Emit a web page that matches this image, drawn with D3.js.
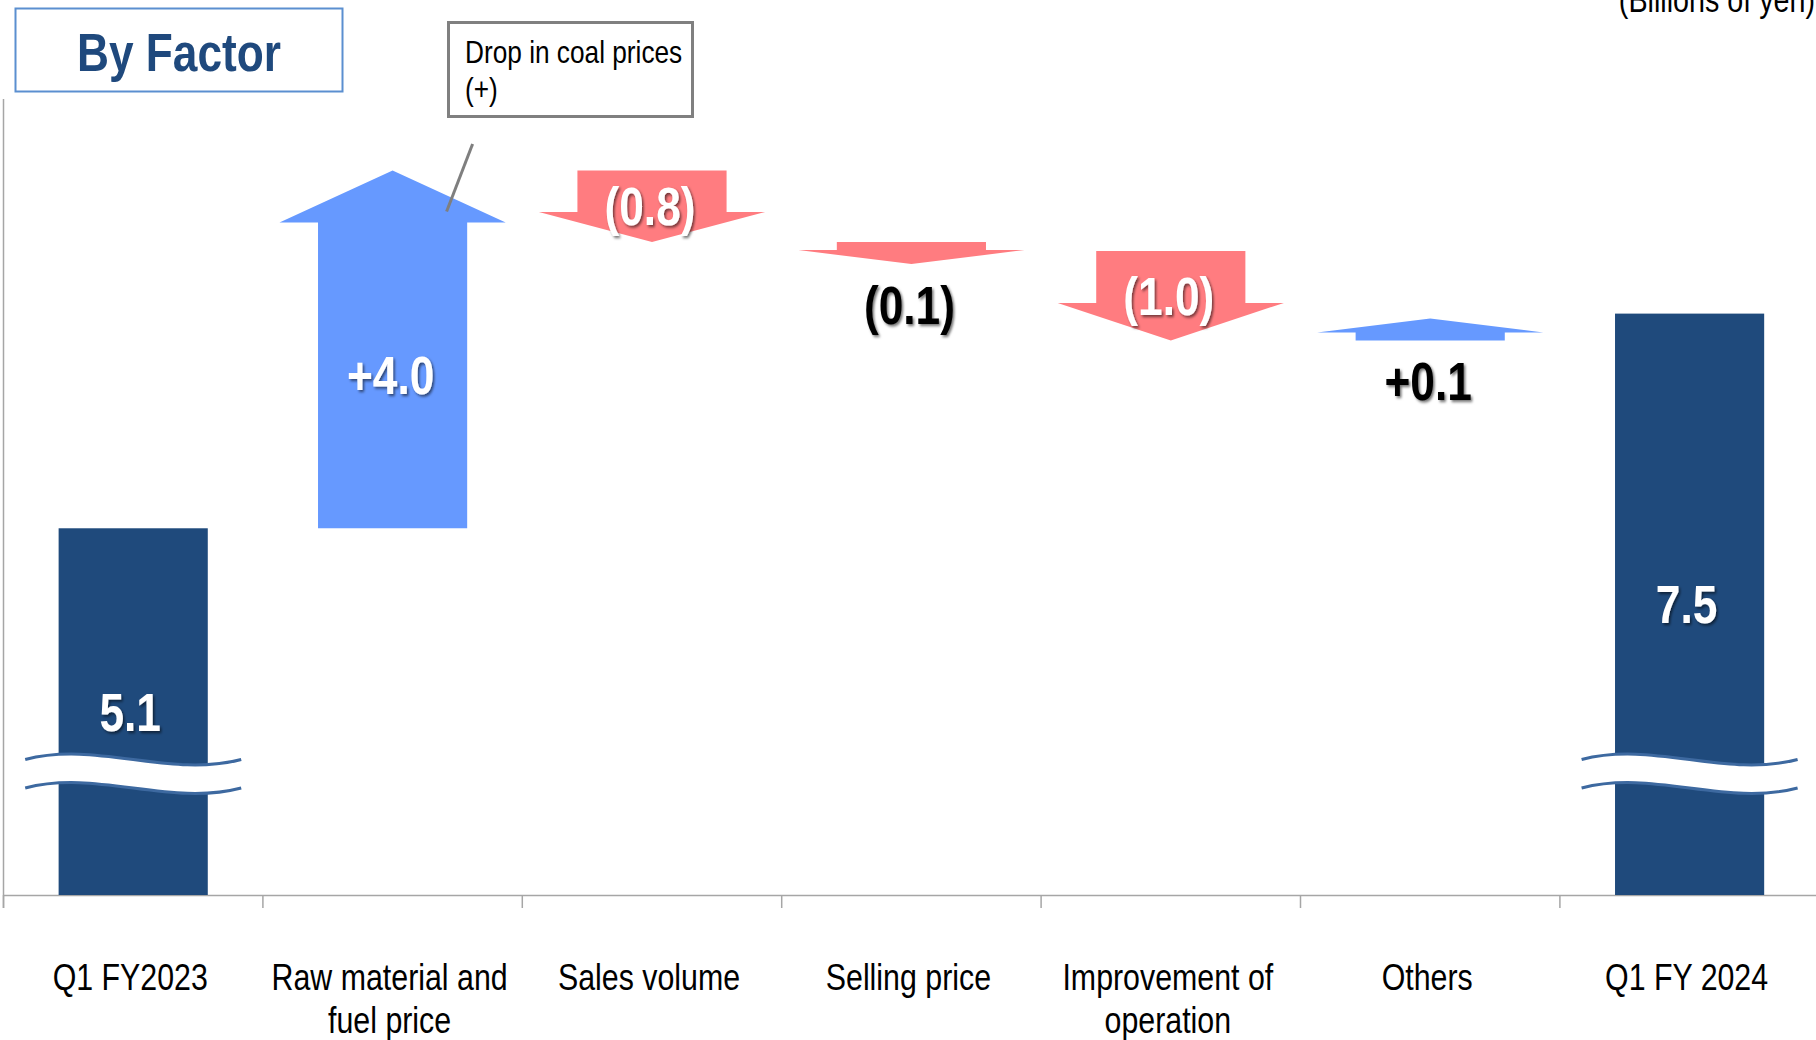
<!DOCTYPE html>
<html>
<head>
<meta charset="utf-8">
<script src="https://cdn.jsdelivr.net/npm/d3@7"></script>
<style>
  body { margin: 0; background: #fff; }
  svg { display: block; }
  text { font-family: 'Liberation Sans', Arial, sans-serif; }
</style>
</head>
<body>
<div id="chart"></div>
<script>
// chart data
const categories = ['Q1 FY2023', 'Raw material and fuel price', 'Sales volume', 'Selling price',
  'Improvement of operation', 'Others', 'Q1 FY 2024'];
const categoryLines = [['Q1 FY2023'], ['Raw material and', 'fuel price'], ['Sales volume'],
  ['Selling price'], ['Improvement of', 'operation'], ['Others'], ['Q1 FY 2024']];
const values = [5.1, 4.0, -0.8, -0.1, -1.0, 0.1, 7.5];
const kinds = ['total', 'delta', 'delta', 'delta', 'delta', 'delta', 'total'];
const valueLabels = ['5.1', '+4.0', '(0.8)', '(0.1)', '(1.0)', '+0.1', '7.5'];
const yDomain = [1.0, 9.1]; // axis is broken, bars start at 1.0

const width = 1816;
const height = 1040;
const baseY = 895;
const narrow = 0.82; // no Arial Narrow here, squeeze Liberation Sans instead

const svg = d3.select('#chart').append('svg')
  .attr('width', width)
  .attr('height', height);

const defs = svg.append('defs');
defs.append('filter').attr('id', 'shadow')
  .attr('x', '-20%').attr('y', '-20%').attr('width', '140%').attr('height', '140%')
  .append('feDropShadow')
  .attr('dx', 2).attr('dy', 2).attr('stdDeviation', 1.5)
  .attr('flood-color', '#000').attr('flood-opacity', 0.55);

// text drawn at (tx, ty) and squeezed horizontally
function narrowText(parent, tx, ty, lines, o) {
  const g = parent.append('g')
    .attr('transform', `translate(${tx},${ty}) scale(${narrow},1)`);
  const t = g.append('text')
    .attr('text-anchor', o.anchor || 'middle')
    .attr('font-size', o.size)
    .attr('font-weight', o.weight || 'normal')
    .attr('fill', o.fill || '#000');
  if (o.filter) t.attr('filter', o.filter);
  lines.forEach((line, k) => {
    t.append('tspan').attr('x', 0).attr('y', k * (o.lh || 0)).text(line);
  });
  return t;
}

const x = d3.scaleBand()
  .domain(categories)
  .range([3.5, 3.5 + 7 * 259.4]);

const y = d3.scaleLinear()
  .domain(yDomain)
  .range([baseY, 170.5]);

const bw = x.bandwidth();
const barW = bw * 0.575;
const headW = bw * 0.872;

// waterfall steps
let running = 0;
const steps = categories.map((c, i) => {
  if (kinds[i] === 'total') {
    running = values[i];
    return { c, i, kind: 'total', start: yDomain[0], end: values[i] };
  }
  const start = running;
  running += values[i];
  return { c, i, kind: 'delta', start, end: running };
});

// axes
svg.append('line')
  .attr('x1', 3.5).attr('x2', 3.5)
  .attr('y1', 99).attr('y2', baseY + 13)
  .attr('stroke', '#a6a6a6').attr('stroke-width', 1.5);

const xAxis = svg.append('g')
  .attr('transform', `translate(0,${baseY})`)
  .call(d3.axisBottom(x).tickSize(0).tickFormat(''));
xAxis.select('.domain').attr('stroke', '#a6a6a6').attr('stroke-width', 1.5)
  .attr('d', `M3.5,0.5H${width}`);

svg.append('g').selectAll('line')
  .data(categories)
  .join('line')
  .attr('x1', d => x(d)).attr('x2', d => x(d))
  .attr('y1', baseY).attr('y2', baseY + 13)
  .attr('stroke', '#a6a6a6').attr('stroke-width', 1.5);

// category labels
const catG = svg.append('g');
steps.forEach(d => {
  narrowText(catG, x(d.c) + bw / 2 - 3, 990, categoryLines[d.i], { size: 37, lh: 43 });
});

// total bars
const totals = steps.filter(d => d.kind === 'total');
svg.append('g').selectAll('rect')
  .data(totals)
  .join('rect')
  .attr('x', d => x(d.c) + (bw - barW) / 2)
  .attr('y', d => y(d.end))
  .attr('width', barW)
  .attr('height', d => baseY - y(d.end))
  .attr('fill', '#1f4a7c');

// axis break marks
const wave = (x0, x1, yy, k) => {
  const w = x1 - x0;
  return `C${x0 + w / 3},${yy - k} ${x0 + 2 * w / 3},${yy + k} ${x1},${yy}`;
};
const waveBack = (x0, x1, yy, k) => {
  const w = x1 - x0;
  return `C${x0 + 2 * w / 3},${yy + k} ${x0 + w / 3},${yy - k} ${x0},${yy}`;
};
const breakG = svg.append('g');
totals.forEach(d => {
  const cx = x(d.c) + bw / 2;
  const x0 = cx - 108, x1 = cx + 108;
  const yA = baseY - 135.5, yB = baseY - 107;
  breakG.append('path')
    .attr('d', `M${x0},${yA}${wave(x0, x1, yA, 19)}L${x1},${yB}${waveBack(x0, x1, yB, 19)}Z`)
    .attr('fill', '#fff');
  [yA, yB].forEach(yy => {
    breakG.append('path')
      .attr('d', `M${x0},${yy}${wave(x0, x1, yy, 19)}`)
      .attr('fill', 'none')
      .attr('stroke', '#3d69a0')
      .attr('stroke-width', 3);
  });
});

// delta arrows
const deltas = steps.filter(d => d.kind === 'delta').map(d => {
  const y0 = y(d.start);
  const dir = values[d.i] > 0 ? 1 : -1;
  const len = Math.max(Math.abs(y(d.end) - y0), 22);
  const tip = y0 - dir * len;
  const head = Math.min(52, Math.max(len * 0.42, 14));
  const headBase = tip + dir * head;
  return { ...d, y0, dir, len, tip, head, headBase, cx: x(d.c) + bw / 2 };
});

svg.append('g').selectAll('path')
  .data(deltas)
  .join('path')
  .attr('d', d => {
    const sw = barW / 2, hw = headW / 2;
    return `M${d.cx - sw},${d.y0}L${d.cx - sw},${d.headBase}L${d.cx - hw},${d.headBase}` +
      `L${d.cx},${d.tip}L${d.cx + hw},${d.headBase}L${d.cx + sw},${d.headBase}L${d.cx + sw},${d.y0}Z`;
  })
  .attr('fill', d => values[d.i] > 0 ? '#6699ff' : '#ff7c80');

// value labels
const labelG = svg.append('g');
const labelStyle = { size: 54, weight: 'bold', filter: 'url(#shadow)' };

totals.forEach(d => {
  narrowText(labelG, x(d.c) + bw / 2 - 3, (y(d.end) + baseY) / 2 + 19, [valueLabels[d.i]],
    { ...labelStyle, fill: '#fff' });
});

deltas.forEach(d => {
  const inside = d.len > 60;
  let ly;
  if (inside) {
    ly = d.dir > 0 ? (d.y0 + d.headBase) / 2 : (d.y0 + d.tip) / 2;
    ly += 19;
  } else {
    ly = Math.max(d.y0, d.tip) + 60;
  }
  narrowText(labelG, d.cx - 2, ly, [valueLabels[d.i]],
    { ...labelStyle, fill: inside ? '#fff' : '#000' });
});

// annotation
const up = deltas[0];
svg.append('line')
  .attr('x1', up.cx + 80).attr('y1', 144)
  .attr('x2', up.cx + 54).attr('y2', up.tip + 41)
  .attr('stroke', '#7f7f7f').attr('stroke-width', 3);

svg.append('rect')
  .attr('x', 448.5).attr('y', 22.5)
  .attr('width', 244).attr('height', 94)
  .attr('fill', '#fff')
  .attr('stroke', '#808080').attr('stroke-width', 3);

narrowText(svg, 465, 63, ['Drop in coal prices', '(+)'], { size: 32, lh: 37, anchor: 'start' });

// title box
svg.append('rect')
  .attr('x', 15.5).attr('y', 8.5)
  .attr('width', 327).attr('height', 83)
  .attr('fill', '#fff')
  .attr('stroke', '#5b8fd0').attr('stroke-width', 2);

narrowText(svg, 179, 71, ['By Factor'], { size: 54, weight: 'bold', fill: '#1f497d' });

narrowText(svg, 1815, 12, ['(Billions of yen)'], { size: 35, anchor: 'end' });
</script>
</body>
</html>
